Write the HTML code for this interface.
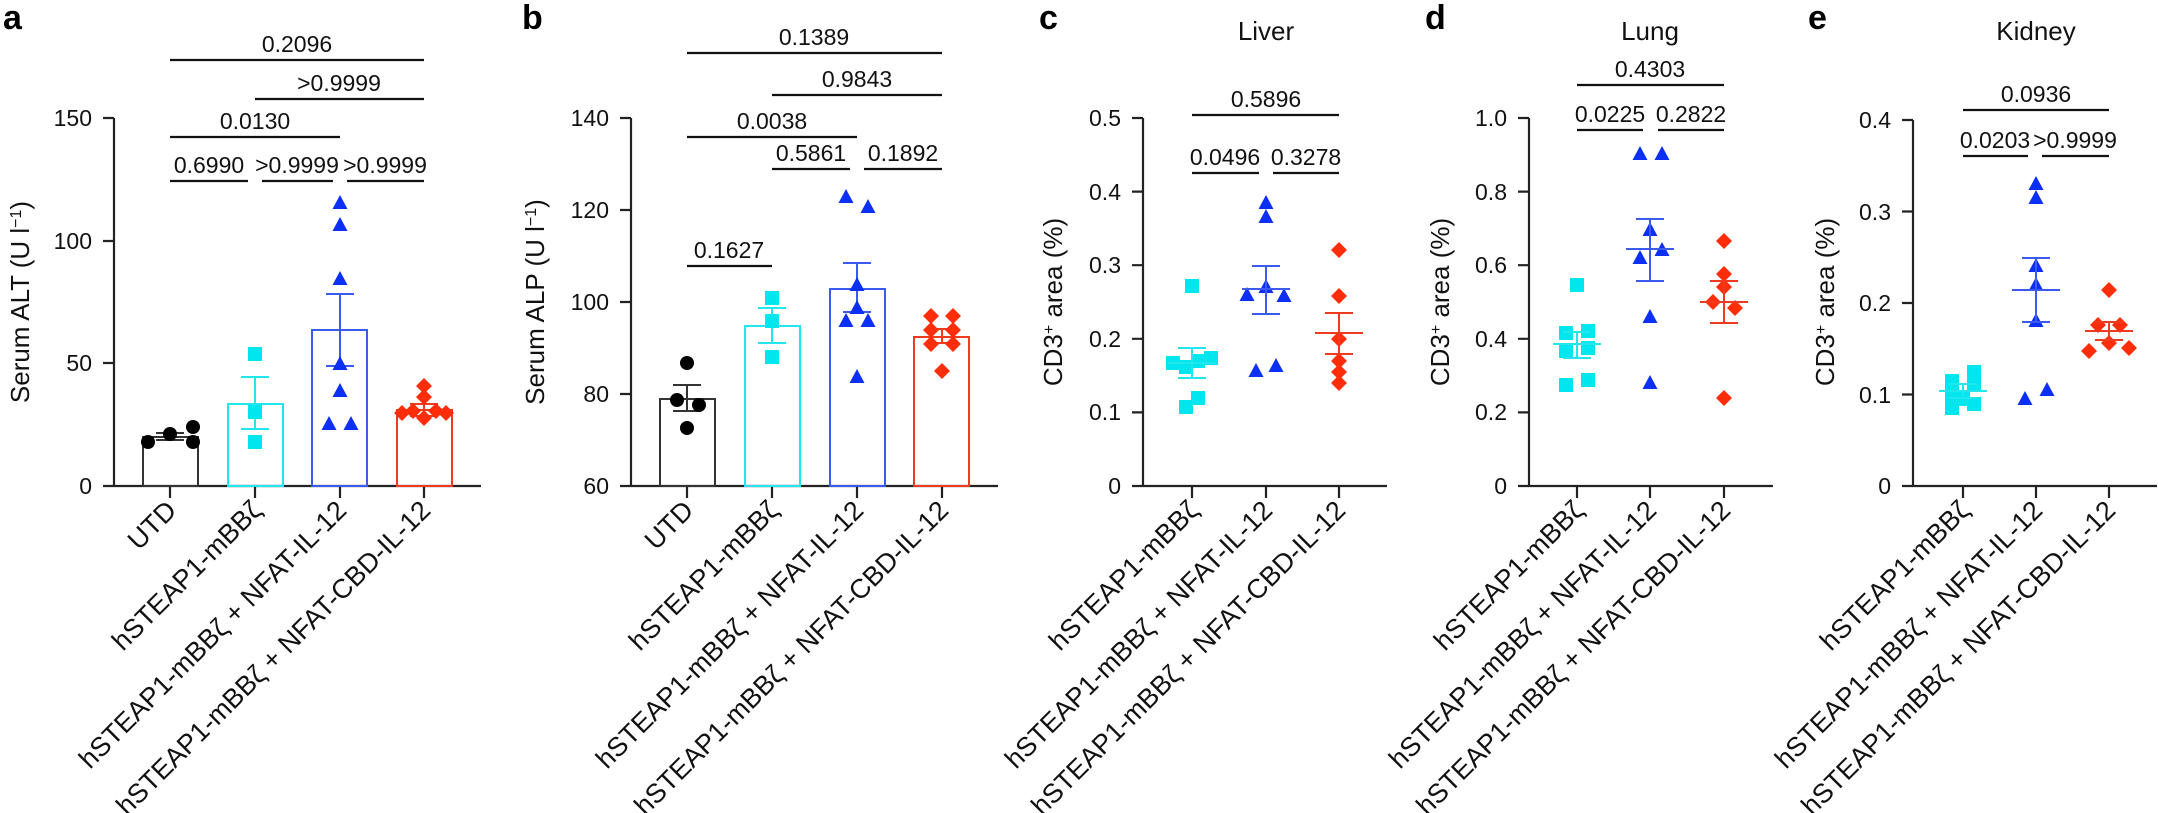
<!DOCTYPE html>
<html><head><meta charset="utf-8"><style>
body{margin:0;background:#fff}
svg{display:block;font-family:"Liberation Sans",Arial,sans-serif}
.t{font-size:23px;fill:#111}
.s{font-size:23px;fill:#111;text-anchor:middle}
.r{font-size:27px;fill:#111;text-anchor:end}
.y{font-size:26px;fill:#111;text-anchor:middle}
.L{font-size:34px;font-weight:bold;fill:#000}
.ti{font-size:26px;fill:#111;text-anchor:middle}
.ax{stroke:#222;stroke-width:2.2;fill:none}
.sg{stroke:#111;stroke-width:2.2}
</style></head><body>
<svg width="2158" height="813" viewBox="0 0 2158 813">
<defs>
<circle id="ci" r="7" fill="#000"/>
<rect id="sq" x="-7" y="-7" width="14" height="14" fill="#00e6ef"/>
<path id="tri" d="M0,-8 L7.5,6 L-7.5,6Z" fill="#0b2ff5"/>
<path id="dia" d="M0,-8 L8,0 L0,8 L-8,0Z" fill="#ff2d0a"/>
</defs>

<text class="L" x="3" y="29">a</text>
<text class="L" x="522" y="29">b</text>
<text class="L" x="1039" y="29">c</text>
<text class="L" x="1425" y="29">d</text>
<text class="L" x="1808" y="29">e</text>
<text class="ti" x="1266" y="40">Liver</text>
<text class="ti" x="1650" y="40">Lung</text>
<text class="ti" x="2036" y="40">Kidney</text>

<text class="y" transform="translate(29,302) rotate(-90)">Serum ALT (U l<tspan baseline-shift="super" font-size="16">−1</tspan>)</text>
<text class="y" transform="translate(544,302) rotate(-90)">Serum ALP (U l<tspan baseline-shift="super" font-size="16">−1</tspan>)</text>
<text class="y" transform="translate(1062,302) rotate(-90)">CD3<tspan baseline-shift="super" font-size="16">+</tspan> area (%)</text>
<text class="y" transform="translate(1449,302) rotate(-90)">CD3<tspan baseline-shift="super" font-size="16">+</tspan> area (%)</text>
<text class="y" transform="translate(1834,302) rotate(-90)">CD3<tspan baseline-shift="super" font-size="16">+</tspan> area (%)</text>

<!-- ===== Panel a ===== -->
<path class="ax" d="M114,118V486 M103,118H114 M103,241H114 M103,363H114 M103,486H481 M170,486V498 M255,486V498 M340,486V498 M424,486V498"/>
<g class="t" text-anchor="end"><text x="92" y="126">150</text><text x="92" y="249">100</text><text x="92" y="371">50</text><text x="92" y="494">0</text></g>
<rect x="143" y="437" width="55" height="49" fill="none" stroke="#333" stroke-width="2"/>
<rect x="228" y="404" width="55" height="82" fill="none" stroke="#22e6ee" stroke-width="2"/>
<rect x="312" y="330" width="55" height="156" fill="none" stroke="#3a5af0" stroke-width="2"/>
<rect x="397" y="410" width="55" height="76" fill="none" stroke="#f03a20" stroke-width="2"/>
<path stroke="#333" stroke-width="2" d="M170,433V440 M156,433H184 M156,440H184"/>
<path stroke="#22e6ee" stroke-width="2" d="M255,377V429 M241,377H269 M241,429H269"/>
<path stroke="#3a5af0" stroke-width="2" d="M340,294V366 M326,294H354 M326,366H354"/>
<path stroke="#f03a20" stroke-width="2" d="M424,404V416 M410,404H438 M410,416H438"/>
<use href="#ci" x="148" y="442"/><use href="#ci" x="170" y="434"/><use href="#ci" x="193" y="427"/><use href="#ci" x="193" y="442"/>
<use href="#sq" x="255" y="354"/><use href="#sq" x="255" y="412"/><use href="#sq" x="255" y="442"/>
<use href="#tri" x="340" y="203"/><use href="#tri" x="340" y="225"/><use href="#tri" x="340" y="279"/><use href="#tri" x="340" y="364"/><use href="#tri" x="340" y="391"/><use href="#tri" x="329" y="424"/><use href="#tri" x="351" y="424"/>
<use href="#dia" x="424" y="386"/><use href="#dia" x="424" y="397"/><use href="#dia" x="402" y="413"/><use href="#dia" x="413" y="411"/><use href="#dia" x="424" y="418"/><use href="#dia" x="436" y="411"/><use href="#dia" x="446" y="413"/>
<path class="sg" d="M170,60H424 M255,99H424 M170,137H340 M170,181H248 M262,181H333 M347,181H424"/>
<text class="s" x="297" y="52">0.2096</text><text class="s" x="339" y="91">&gt;0.9999</text><text class="s" x="255" y="129">0.0130</text>
<text class="s" x="209" y="173">0.6990</text><text class="s" x="297" y="173">&gt;0.9999</text><text class="s" x="385" y="173">&gt;0.9999</text>
<text class="r" transform="translate(178,512) rotate(-45)">UTD</text>
<text class="r" transform="translate(263,512) rotate(-45)">hSTEAP1-mBBζ</text>
<text class="r" transform="translate(348,512) rotate(-45)">hSTEAP1-mBBζ + NFAT-IL-12</text>
<text class="r" transform="translate(432,512) rotate(-45)">hSTEAP1-mBBζ + NFAT-CBD-IL-12</text>

<!-- ===== Panel b ===== -->
<path class="ax" d="M631,118V486 M620,118H631 M620,210H631 M620,302H631 M620,394H631 M620,486H998 M687,486V498 M772,486V498 M857,486V498 M942,486V498"/>
<g class="t" text-anchor="end"><text x="609" y="126">140</text><text x="609" y="218">120</text><text x="609" y="310">100</text><text x="609" y="402">80</text><text x="609" y="494">60</text></g>
<rect x="660" y="399" width="55" height="87" fill="none" stroke="#333" stroke-width="2"/>
<rect x="745" y="326" width="55" height="160" fill="none" stroke="#22e6ee" stroke-width="2"/>
<rect x="830" y="289" width="55" height="197" fill="none" stroke="#3a5af0" stroke-width="2"/>
<rect x="914" y="337" width="55" height="149" fill="none" stroke="#f03a20" stroke-width="2"/>
<path stroke="#333" stroke-width="2" d="M687,385V411 M673,385H701 M673,411H701"/>
<path stroke="#22e6ee" stroke-width="2" d="M772,308V343 M758,308H786 M758,343H786"/>
<path stroke="#3a5af0" stroke-width="2" d="M857,263V312 M843,263H871 M843,312H871"/>
<path stroke="#f03a20" stroke-width="2" d="M942,329V343 M928,329H956 M928,343H956"/>
<use href="#ci" x="687" y="363"/><use href="#ci" x="677" y="400"/><use href="#ci" x="699" y="405"/><use href="#ci" x="687" y="428"/>
<use href="#sq" x="772" y="298"/><use href="#sq" x="772" y="321"/><use href="#sq" x="772" y="357"/>
<use href="#tri" x="846" y="197"/><use href="#tri" x="868" y="207"/><use href="#tri" x="857" y="285"/><use href="#tri" x="857" y="308"/><use href="#tri" x="846" y="321"/><use href="#tri" x="868" y="321"/><use href="#tri" x="857" y="377"/>
<use href="#dia" x="931" y="316"/><use href="#dia" x="953" y="316"/><use href="#dia" x="931" y="330"/><use href="#dia" x="953" y="330"/><use href="#dia" x="931" y="344"/><use href="#dia" x="953" y="344"/><use href="#dia" x="942" y="371"/>
<path class="sg" d="M687,53H942 M772,95H942 M687,137H857 M772,169H850 M864,169H942 M687,266H772"/>
<text class="s" x="814" y="45">0.1389</text><text class="s" x="857" y="87">0.9843</text><text class="s" x="772" y="129">0.0038</text>
<text class="s" x="811" y="161">0.5861</text><text class="s" x="903" y="161">0.1892</text><text class="s" x="729" y="258">0.1627</text>
<text class="r" transform="translate(695,512) rotate(-45)">UTD</text>
<text class="r" transform="translate(780,512) rotate(-45)">hSTEAP1-mBBζ</text>
<text class="r" transform="translate(865,512) rotate(-45)">hSTEAP1-mBBζ + NFAT-IL-12</text>
<text class="r" transform="translate(950,512) rotate(-45)">hSTEAP1-mBBζ + NFAT-CBD-IL-12</text>

<!-- ===== Panel c ===== -->
<path class="ax" d="M1143,118V486 M1132,118H1143 M1132,191.6H1143 M1132,265.2H1143 M1132,338.8H1143 M1132,412.4H1143 M1132,486H1387 M1192,486V498 M1266,486V498 M1339,486V498"/>
<g class="t" text-anchor="end"><text x="1121" y="126">0.5</text><text x="1121" y="200">0.4</text><text x="1121" y="273">0.3</text><text x="1121" y="347">0.2</text><text x="1121" y="420">0.1</text><text x="1121" y="494">0</text></g>
<use href="#sq" x="1173" y="363"/><use href="#sq" x="1186" y="367"/><use href="#sq" x="1198" y="361"/><use href="#sq" x="1211" y="358"/><use href="#sq" x="1192" y="286"/><use href="#sq" x="1198" y="398"/><use href="#sq" x="1186" y="407"/>
<use href="#tri" x="1266" y="203"/><use href="#tri" x="1266" y="217"/><use href="#tri" x="1266" y="287"/><use href="#tri" x="1247" y="295"/><use href="#tri" x="1284" y="296"/><use href="#tri" x="1276" y="366"/><use href="#tri" x="1256" y="371"/>
<use href="#dia" x="1339" y="250"/><use href="#dia" x="1339" y="296"/><use href="#dia" x="1339" y="339"/><use href="#dia" x="1339" y="361"/><use href="#dia" x="1339" y="372"/><use href="#dia" x="1339" y="383"/>
<path stroke="#22e6ee" stroke-width="2" d="M1168,363H1216 M1192,348V378 M1178,348H1206 M1178,378H1206"/>
<path stroke="#3a5af0" stroke-width="2" d="M1242,289H1290 M1266,266V314 M1252,266H1280 M1252,314H1280"/>
<path stroke="#f03a20" stroke-width="2" d="M1315,333H1363 M1339,313V354 M1325,313H1353 M1325,354H1353"/>
<path class="sg" d="M1192,115H1339 M1192,173H1259 M1273,173H1339"/>
<text class="s" x="1266" y="107">0.5896</text><text class="s" x="1225" y="165">0.0496</text><text class="s" x="1306" y="165">0.3278</text>
<text class="r" transform="translate(1200,512) rotate(-45)">hSTEAP1-mBBζ</text>
<text class="r" transform="translate(1274,512) rotate(-45)">hSTEAP1-mBBζ + NFAT-IL-12</text>
<text class="r" transform="translate(1347,512) rotate(-45)">hSTEAP1-mBBζ + NFAT-CBD-IL-12</text>

<!-- ===== Panel d ===== -->
<path class="ax" d="M1529,118V486 M1518,118H1529 M1518,191.6H1529 M1518,265.2H1529 M1518,338.8H1529 M1518,412.4H1529 M1518,486H1773 M1577,486V498 M1650,486V498 M1724,486V498"/>
<g class="t" text-anchor="end"><text x="1507" y="126">1.0</text><text x="1507" y="200">0.8</text><text x="1507" y="273">0.6</text><text x="1507" y="347">0.4</text><text x="1507" y="420">0.2</text><text x="1507" y="494">0</text></g>
<use href="#sq" x="1566" y="333"/><use href="#sq" x="1588" y="331"/><use href="#sq" x="1566" y="351"/><use href="#sq" x="1588" y="348"/><use href="#sq" x="1577" y="285"/><use href="#sq" x="1566" y="385"/><use href="#sq" x="1588" y="380"/>
<use href="#tri" x="1640" y="154"/><use href="#tri" x="1662" y="154"/><use href="#tri" x="1650" y="230"/><use href="#tri" x="1640" y="258"/><use href="#tri" x="1662" y="250"/><use href="#tri" x="1650" y="317"/><use href="#tri" x="1650" y="383"/>
<use href="#dia" x="1724" y="241"/><use href="#dia" x="1724" y="274"/><use href="#dia" x="1724" y="287"/><use href="#dia" x="1713" y="302"/><use href="#dia" x="1735" y="308"/><use href="#dia" x="1724" y="398"/>
<path stroke="#22e6ee" stroke-width="2" d="M1553,344H1601 M1577,332V358 M1563,332H1591 M1563,358H1591"/>
<path stroke="#3a5af0" stroke-width="2" d="M1626,249H1674 M1650,219V281 M1636,219H1664 M1636,281H1664"/>
<path stroke="#f03a20" stroke-width="2" d="M1700,302H1748 M1724,281V323 M1710,281H1738 M1710,323H1738"/>
<path class="sg" d="M1577,85H1724 M1577,130H1643 M1658,130H1724"/>
<text class="s" x="1650" y="77">0.4303</text><text class="s" x="1610" y="122">0.0225</text><text class="s" x="1691" y="122">0.2822</text>
<text class="r" transform="translate(1585,512) rotate(-45)">hSTEAP1-mBBζ</text>
<text class="r" transform="translate(1658,512) rotate(-45)">hSTEAP1-mBBζ + NFAT-IL-12</text>
<text class="r" transform="translate(1732,512) rotate(-45)">hSTEAP1-mBBζ + NFAT-CBD-IL-12</text>

<!-- ===== Panel e ===== -->
<path class="ax" d="M1913,120V486 M1902,120H1913 M1902,211.5H1913 M1902,303H1913 M1902,394.5H1913 M1902,486H2157 M1963,486V498 M2036,486V498 M2109,486V498"/>
<g class="t" text-anchor="end"><text x="1891" y="128">0.4</text><text x="1891" y="220">0.3</text><text x="1891" y="311">0.2</text><text x="1891" y="403">0.1</text><text x="1891" y="494">0</text></g>
<use href="#sq" x="1952" y="381"/><use href="#sq" x="1974" y="372"/><use href="#sq" x="1952" y="394"/><use href="#sq" x="1974" y="385"/><use href="#sq" x="1963" y="399"/><use href="#sq" x="1952" y="408"/><use href="#sq" x="1974" y="404"/>
<use href="#tri" x="2036" y="184"/><use href="#tri" x="2036" y="198"/><use href="#tri" x="2036" y="266"/><use href="#tri" x="2036" y="285"/><use href="#tri" x="2036" y="321"/><use href="#tri" x="2025" y="399"/><use href="#tri" x="2047" y="390"/>
<use href="#dia" x="2109" y="290"/><use href="#dia" x="2098" y="325"/><use href="#dia" x="2120" y="325"/><use href="#dia" x="2109" y="343"/><use href="#dia" x="2089" y="351"/><use href="#dia" x="2129" y="348"/>
<path stroke="#22e6ee" stroke-width="2" d="M1939,391H1987 M1963,384V398 M1949,384H1977 M1949,398H1977"/>
<path stroke="#3a5af0" stroke-width="2" d="M2012,290H2060 M2036,258V322 M2022,258H2050 M2022,322H2050"/>
<path stroke="#f03a20" stroke-width="2" d="M2085,331H2133 M2109,322V340 M2095,322H2123 M2095,340H2123"/>
<path class="sg" d="M1963,110H2109 M1963,156H2028 M2042,156H2109"/>
<text class="s" x="2036" y="102">0.0936</text><text class="s" x="1995" y="148">0.0203</text><text class="s" x="2075" y="148">&gt;0.9999</text>
<text class="r" transform="translate(1971,512) rotate(-45)">hSTEAP1-mBBζ</text>
<text class="r" transform="translate(2044,512) rotate(-45)">hSTEAP1-mBBζ + NFAT-IL-12</text>
<text class="r" transform="translate(2117,512) rotate(-45)">hSTEAP1-mBBζ + NFAT-CBD-IL-12</text>
</svg>
</body></html>
